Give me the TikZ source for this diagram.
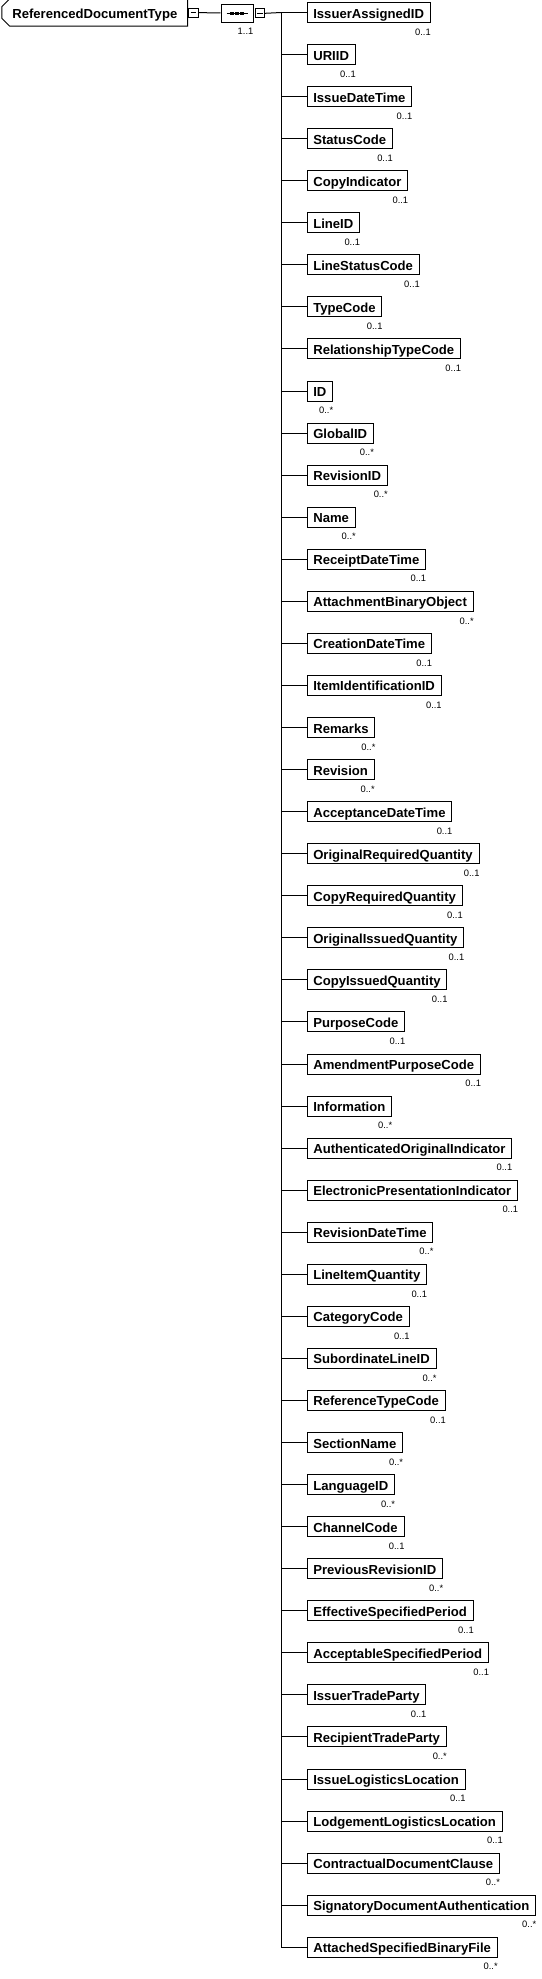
\documentclass[tikz,border=0pt]{standalone}
\usepackage{fontspec}
\setmainfont{Liberation Sans}
\usetikzlibrary{positioning,calc,shapes.misc}

\begin{document}
\begin{tikzpicture}[
  x=1pt,y=-1pt,
  line width=1pt,
  every node/.style={inner sep=0pt},
  elembox/.style={draw,anchor=west,inner xsep=6.3pt,inner ysep=3.5pt,
                  text height=12pt,text depth=1pt,
                  font=\fontsize{13.1}{15}\selectfont\bfseries},
  rootbox/.style={elembox,chamfered rectangle,
                  chamfered rectangle corners={north west,south west},
                  chamfered rectangle xsep=4pt,minimum width=183pt,minimum height=21.5pt},
  seqbox/.style={draw,chamfered rectangle,chamfered rectangle xsep=4.5pt,
                 minimum width=32pt,minimum height=18.5pt},
  minusbox/.style={draw,anchor=west,minimum width=9.5pt,minimum height=9pt},
  mult/.style={anchor=base east,font=\fontsize{9.35}{10}\selectfont},
]
  \useasboundingbox (0,0) rectangle (541,1979);

  % Root element
  \node[rootbox] (root) at (1.5,12.5) {ReferencedDocumentType};
  \node[minusbox] (rootminus) at (root.east) {};
  \draw (rootminus.center) ++(-2.8,0) -- ++(5.6,0);

  % Sequence compositor
  \node[seqbox] (seq) at (237,13.3) {};
  \draw (seq.center) ++(-10.5,0) -- ++(21,0);
  \foreach \dx in {-5,0,5}
    \fill ($(seq.center)+(\dx,0)$) +(-1.6,-1.6) rectangle +(1.6,1.6);
  \node[minusbox] (seqminus) at ([xshift=1pt]seq.east) {};
  \draw (seqminus.center) ++(-2.8,0) -- ++(5.6,0);
  \node[mult] (seqmult) at ([yshift=-12pt,xshift=0.8pt]seq.south east) {1..1};
  \draw (rootminus) -- (seq);

  % Child elements
  \foreach \name/\mult [count=\i] in {
      IssuerAssignedID/0..1, URIID/0..1, IssueDateTime/0..1, StatusCode/0..1,
      CopyIndicator/0..1, LineID/0..1, LineStatusCode/0..1, TypeCode/0..1,
      RelationshipTypeCode/0..1, ID/0..*, GlobalID/0..*, RevisionID/0..*,
      Name/0..*, ReceiptDateTime/0..1, AttachmentBinaryObject/0..*,
      CreationDateTime/0..1, ItemIdentificationID/0..1, Remarks/0..*,
      Revision/0..*, AcceptanceDateTime/0..1, OriginalRequiredQuantity/0..1,
      CopyRequiredQuantity/0..1, OriginalIssuedQuantity/0..1,
      CopyIssuedQuantity/0..1, PurposeCode/0..1, AmendmentPurposeCode/0..1,
      Information/0..*, AuthenticatedOriginalIndicator/0..1,
      ElectronicPresentationIndicator/0..1, RevisionDateTime/0..*,
      LineItemQuantity/0..1, CategoryCode/0..1, SubordinateLineID/0..*,
      ReferenceTypeCode/0..1, SectionName/0..*, LanguageID/0..*,
      ChannelCode/0..1, PreviousRevisionID/0..*, EffectiveSpecifiedPeriod/0..1,
      AcceptableSpecifiedPeriod/0..1, IssuerTradeParty/0..1,
      RecipientTradeParty/0..*, IssueLogisticsLocation/0..1,
      LodgementLogisticsLocation/0..1, ContractualDocumentClause/0..*,
      SignatoryDocumentAuthentication/0..*, AttachedSpecifiedBinaryFile/0..*} {
    \pgfmathsetmacro\yy{12.5+42.06*(\i-1)}
    \coordinate (t\i) at (281,\yy);
    \node[elembox] (c\i) at (306.5,\yy) {\name};
    \node[mult] (m\i) at ([yshift=-12.2pt,xshift=0.5pt]c\i.south east) {\mult};
    \draw (t\i) -- (c\i.west);
  }

  % Trunk
  \draw (seqminus.east) -- (t1);
  \draw (t1) -- (t47);
\end{tikzpicture}
\end{document}
